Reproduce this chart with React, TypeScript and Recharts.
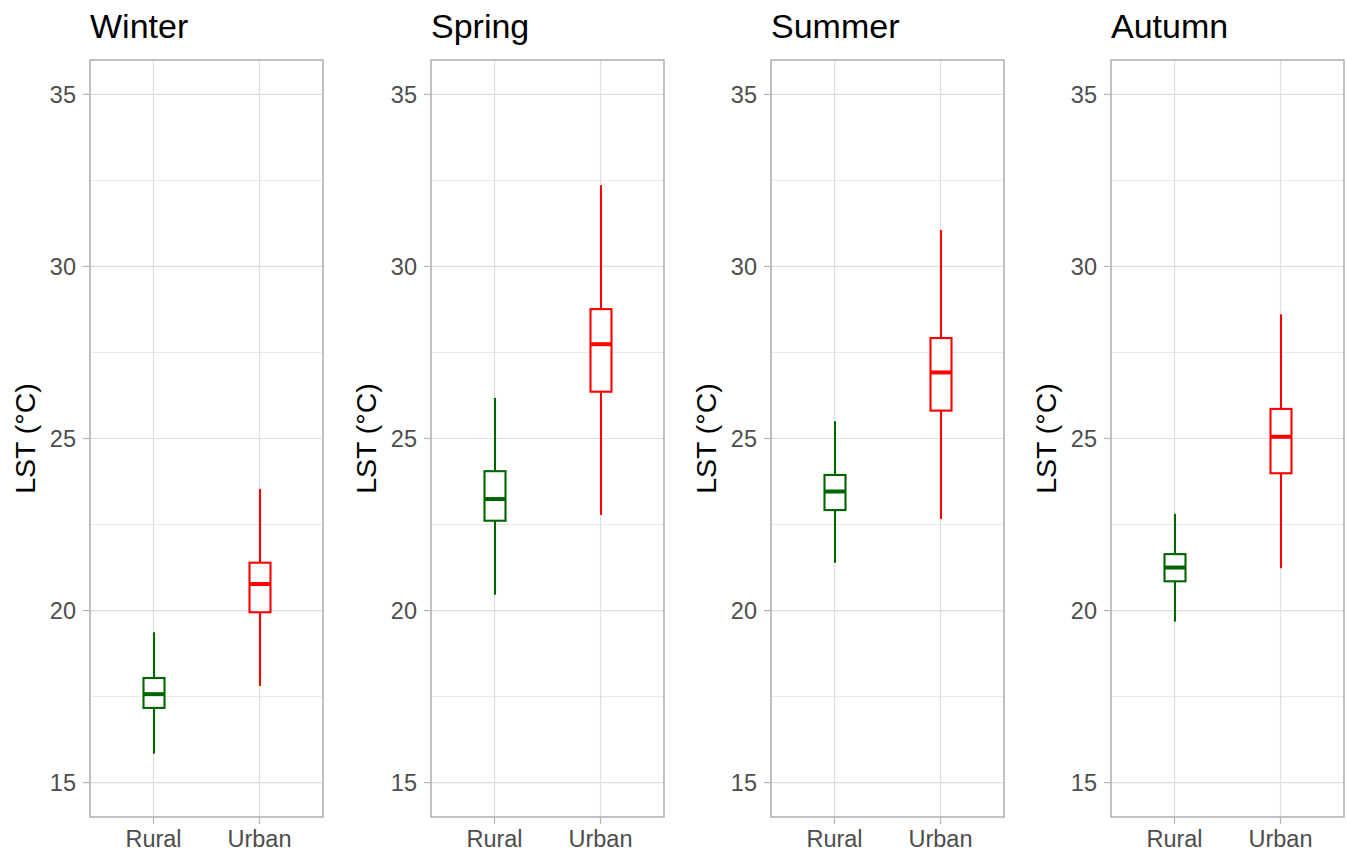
import React from "react";
import { ComposedChart, Bar, Scatter, XAxis, YAxis, CartesianGrid } from "recharts";

const FONT = "'Liberation Sans', Arial, Helvetica, sans-serif";

const seasons = ["Winter", "Spring", "Summer", "Autumn"];
const groups = ["Rural", "Urban"];
const groupColors = ["#006400", "#FF0000"];
const yTicks = [15, 20, 25, 30, 35];
const yMinorTicks = [17.5, 22.5, 27.5, 32.5];
const yDomain = [14, 36];

const ruralLow = [15.84, 20.46, 21.39, 19.68];
const ruralQ1 = [17.17, 22.61, 22.92, 20.85];
const ruralMedian = [17.57, 23.24, 23.46, 21.25];
const ruralQ3 = [18.04, 24.05, 23.94, 21.64];
const ruralHigh = [19.37, 26.18, 25.5, 22.81];

const urbanLow = [17.81, 22.78, 22.66, 21.23];
const urbanQ1 = [19.95, 26.36, 25.81, 23.99];
const urbanMedian = [20.77, 27.74, 26.92, 25.05];
const urbanQ3 = [21.39, 28.76, 27.92, 25.86];
const urbanHigh = [23.53, 32.36, 31.06, 28.61];

const panelLefts = [0, 341, 681, 1021];
const CHART_W = 340;
const CHART_H = 853;
const AXIS_W = 90;
const MARGIN_TOP = 60;
const MARGIN_RIGHT = 17;
const XAXIS_H = 36;
const BOX_W = 21;
const TICK_FONT = 23.5;

function buildRows(i: number) {
  return [
    {
      group: groups[0],
      whisker: [ruralLow[i], ruralHigh[i]],
      box: [ruralQ1[i], ruralQ3[i]],
      median: ruralMedian[i],
      color: groupColors[0],
    },
    {
      group: groups[1],
      whisker: [urbanLow[i], urbanHigh[i]],
      box: [urbanQ1[i], urbanQ3[i]],
      median: urbanMedian[i],
      color: groupColors[1],
    },
  ];
}

const WhiskerShape = (p: any) => {
  const cx = p.x + p.width / 2;
  const y1 = Math.min(p.y, p.y + p.height);
  const y2 = Math.max(p.y, p.y + p.height);
  return <line x1={cx} x2={cx} y1={y1} y2={y2} stroke={p.payload.color} strokeWidth={2.1} />;
};

const BoxShape = (p: any) => {
  const y = Math.min(p.y, p.y + p.height);
  const h = Math.abs(p.height);
  return (
    <rect x={p.x} y={y} width={p.width} height={h} fill="#FFFFFF" stroke={p.payload.color} strokeWidth={2.1} />
  );
};

const MedianShape = (p: any) => {
  return (
    <line
      x1={p.cx - BOX_W / 2}
      x2={p.cx + BOX_W / 2}
      y1={p.cy}
      y2={p.cy}
      stroke={p.payload.color}
      strokeWidth={4}
    />
  );
};

function Panel({ index }: { index: number }) {
  const rows = buildRows(index);
  return (
    <div style={{ position: "absolute", left: panelLefts[index], top: 0 }}>
      <ComposedChart
        width={CHART_W}
        height={CHART_H}
        data={rows}
        margin={{ top: MARGIN_TOP, right: MARGIN_RIGHT, bottom: 0, left: 0 }}
        barGap={-BOX_W}
      >
        <CartesianGrid
          horizontalValues={yMinorTicks}
          vertical={false}
          stroke="#E3E3E3"
          strokeWidth={0.8}
        />
        <CartesianGrid stroke="#DEDEDE" strokeWidth={1.2} />
        <XAxis
          dataKey="group"
          type="category"
          interval={0}
          padding={{ left: 10.5, right: 10.5 }}
          height={XAXIS_H}
          axisLine={false}
          tickSize={7}
          tickMargin={6.5}
          tickLine={{ stroke: "#B3B3B3", strokeWidth: 1.2 }}
          tick={{ fill: "#4D4D4D", fontSize: TICK_FONT, fontFamily: FONT }}
        />
        <YAxis
          type="number"
          domain={yDomain}
          ticks={yTicks}
          allowDataOverflow
          width={AXIS_W}
          axisLine={false}
          tickSize={7}
          tickMargin={7}
          tickLine={{ stroke: "#B3B3B3", strokeWidth: 1.2 }}
          tick={{ fill: "#4D4D4D", fontSize: TICK_FONT, fontFamily: FONT }}
          label={{
            value: "LST (°C)",
            angle: -90,
            position: "insideLeft",
            offset: 25,
            style: { textAnchor: "middle", fill: "#000000", fontSize: 28.5, fontFamily: FONT },
          }}
        />
        <Bar dataKey="whisker" barSize={BOX_W} isAnimationActive={false} shape={WhiskerShape} />
        <Bar dataKey="box" barSize={BOX_W} isAnimationActive={false} shape={BoxShape} />
        <Scatter dataKey="median" isAnimationActive={false} shape={MedianShape} />
      </ComposedChart>
    </div>
  );
}

export default function App() {
  const plotW = CHART_W - AXIS_W - MARGIN_RIGHT;
  const plotH = CHART_H - MARGIN_TOP - XAXIS_H;
  return (
    <>
      <style>{"html,body{margin:0;padding:0;overflow:hidden;background:#fff}"}</style>
      <div
        style={{
          position: "absolute",
          left: 0,
          top: 0,
          width: 1347,
          height: 853,
          background: "#FFFFFF",
          fontFamily: FONT,
          overflow: "hidden",
        }}
      >
        {seasons.map((s, i) => (
          <Panel key={s} index={i} />
        ))}
        <svg
          width={1347}
          height={853}
          style={{ position: "absolute", left: 0, top: 0, pointerEvents: "none" }}
        >
          {seasons.map((s, i) => (
            <g key={s}>
              <rect
                x={panelLefts[i] + AXIS_W}
                y={MARGIN_TOP}
                width={plotW}
                height={plotH}
                fill="none"
                stroke="#B3B3B3"
                strokeWidth={1.5}
              />
              <text x={panelLefts[i] + AXIS_W} y={37.5} fontSize={34} fontFamily={FONT} fill="#000000">
                {s}
              </text>
            </g>
          ))}
        </svg>
      </div>
    </>
  );
}
